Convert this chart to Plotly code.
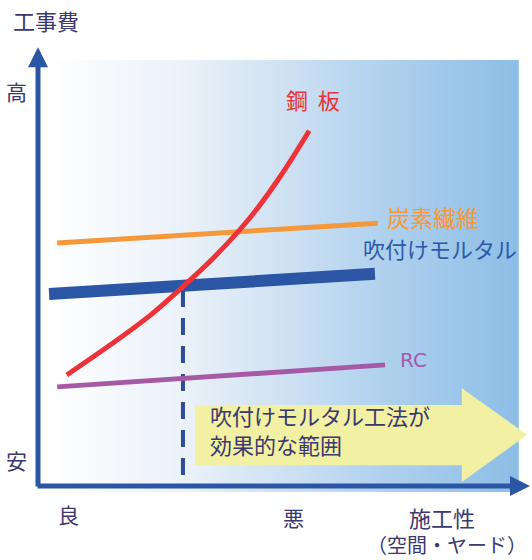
import numpy as np
import plotly.graph_objects as go

# ---- conceptual data (x: 施工性 0=良 .. 10=悪, y: 工事費 0=安 .. 10=高) ----
steel_x = [0.60, 1.50, 2.33, 3.02, 3.69, 4.42, 5.04, 5.65]
steel_y = [2.50, 3.18, 3.85, 4.51, 5.20, 6.08, 7.00, 8.05]

carbon_x = [0.40, 7.08]
carbon_y = [5.50, 5.95]

mortar_x = [0.23, 7.02]
mortar_y = [4.34, 4.80]

rc_x = [0.40, 7.23]
rc_y = [2.23, 2.73]

cross_x = [3.02, 3.02]
cross_y = [4.43, 0.16]

arrow_x = [3.27, 8.83, 8.83, 10.19, 8.83, 8.83, 3.27]
arrow_y = [1.82, 1.82, 2.20, 1.14, 0.07, 0.45, 0.45]

bg_x_edges = np.linspace(0.10, 10.02, 121)
bg_y_edges = [-0.16, 9.66]

FONT = "Noto Sans CJK JP"
TXT = "#3c3870"

fig = go.Figure()

# gradient background
fig.add_trace(go.Heatmap(
    x=bg_x_edges, y=bg_y_edges,
    z=[np.linspace(0, 1, len(bg_x_edges) - 1)],
    colorscale=[[0, "#ffffff"], [0.3, "#eaf1f9"], [0.5, "#d0e2f3"],
                [0.7, "#b2d2ee"], [1, "#8dbee6"]],
    showscale=False, hoverinfo="skip", zsmooth="best"))

# yellow arrow
fig.add_trace(go.Scatter(x=arrow_x, y=arrow_y, fill="toself", mode="lines",
                         fillcolor="#f2f1a3", line=dict(width=0, color="#f2f1a3"),
                         hoverinfo="skip"))

# dashed line
fig.add_trace(go.Scatter(x=cross_x, y=cross_y, mode="lines",
                         line=dict(color="#2c4b9b", width=4, dash="17px,11px"),
                         hoverinfo="skip"))

# lines
fig.add_trace(go.Scatter(x=rc_x, y=rc_y, mode="lines",
                         line=dict(color="#a65aa6", width=5), hoverinfo="skip"))
fig.add_trace(go.Scatter(x=carbon_x, y=carbon_y, mode="lines",
                         line=dict(color="#f5983a", width=5), hoverinfo="skip"))
fig.add_trace(go.Scatter(x=mortar_x, y=mortar_y, mode="lines",
                         line=dict(color="#2b56a5", width=12), hoverinfo="skip"))
fig.add_trace(go.Scatter(x=steel_x, y=steel_y, mode="lines",
                         line=dict(color="#ee3237", width=5, shape="spline", smoothing=1.0),
                         hoverinfo="skip"))

ann = []
# axes arrows
ann.append(dict(x=0, y=9.95, ax=0, ay=-0.07, xref="x", yref="y", axref="x", ayref="y",
                showarrow=True, arrowhead=2, arrowsize=0.8, arrowwidth=5,
                arrowcolor="#2b56a5", text="", standoff=0))
ann.append(dict(x=10.25, y=-0.02, ax=-0.04, ay=-0.02, xref="x", yref="y", axref="x", ayref="y",
                showarrow=True, arrowhead=2, arrowsize=0.8, arrowwidth=5,
                arrowcolor="#2b56a5", text="", standoff=0))

def label(text, x, y, size, color, xanchor="center", align="center", family=FONT):
    ann.append(dict(x=x, y=y, xref="x", yref="y", text=text, showarrow=False,
                    xanchor=xanchor, yanchor="middle", align=align,
                    font=dict(family=family, size=size, color=color)))

label("工事費", 0.17, 10.57, 22, TXT)
label("高", -0.44, 8.95, 21, TXT)
label("安", -0.44, 0.57, 21, TXT)
label("良", 0.625, -0.66, 21, TXT)
label("悪", 5.33, -0.73, 21, TXT)
label("施工性", 8.42, -0.73, 22, TXT)
label("（空間・ヤード）", 8.52, -1.36, 20, TXT)
label("鋼&nbsp;&nbsp;板", 5.73, 8.77, 22, "#e8333a")
label("炭素繊維", 8.23, 6.09, 23, "#f5983a")
label("吹付けモルタル", 8.38, 5.39, 22, "#2d5aa8")
label("RC", 7.83, 2.84, 20, "#a659a8", family="DejaVu Sans")
label("吹付けモルタル工法が<br>効果的な範囲", 3.55, 1.26, 22, TXT, "left", "left")

fig.update_layout(
    width=532, height=560,
    margin=dict(l=0, r=0, t=0, b=0),
    paper_bgcolor="white", plot_bgcolor="white",
    showlegend=False,
    xaxis=dict(range=[-38 / 48, (532 - 38) / 48], visible=False, fixedrange=True),
    yaxis=dict(range=[(485 - 560) / 44, 485 / 44], visible=False, fixedrange=True),
    annotations=ann,
)

fig.write_html("out.html", post_script="document.body.style.margin='0';",
               config={"displayModeBar": False})
